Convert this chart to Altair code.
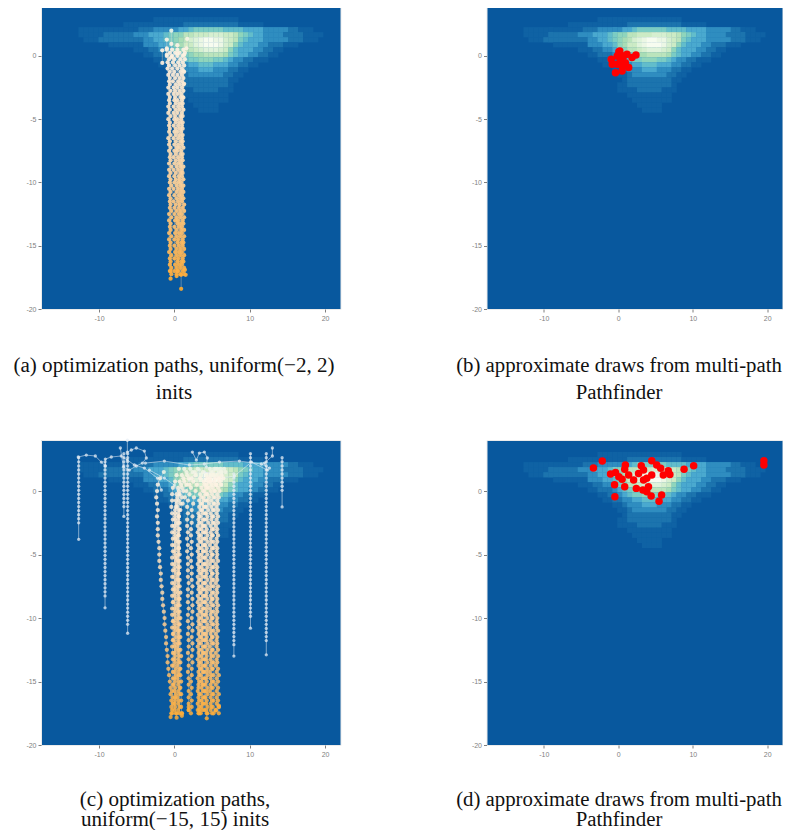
import altair as alt
import pandas as pd

# ---- heat map: row -> (first column, hex levels)
heat_rows = {
    2: (24, "11111111111111111"),
    3: (18, "1111111111112222222222211111"),
    4: (9, "111111111111222333334456666665555444433333" + "22111"),
    5: (9, "11111222222333444567799aaabbbaa9" + "765443333222211" + "11"),
    6: (10, "1112222222223344567" + "89bcdeeddba96544433333" + "222111"),
    7: (15, "1111111333445" + "78aacdeeedba7544433222111"),
    8: (20, "1112233467" + "99abcccba75444332211"),
    9: (22, "112223456" + "78899998" + "6544332211"),
    10: (24, "1122345667776654332" + "2111"),
    11: (25, "112233445554443322" + "11"),
    12: (27, "11233344433322" + "11"),
    13: (28, "11233333332211"),
    14: (29, "122222222211"),
    15: (28, "112222222221"),
    16: (28, "111122222111"),
    17: (30, "111111111"),
    18: (31, "11111111"),
    19: (32, "11111"),
    20: (33, "1111"),
}
heat_levels = [0, 1, 2, 3, 4, 5, 6, 8, 10, 12, 14]
heat_colors = ["#08589e", "#0f62a4", "#1c74ae", "#2f8dc0", "#4aa9cf", "#62bdcb", "#7bccc4", "#a8ddb5", "#ccebc5", "#e0f3db", "#f7fcf0"]
X_MIN, X_MAX = -17.7, 22.05
Y_TOP_1, Y_TOP_2, Y_MIN = 3.87, 4.02, -20

# ---- red draws
draws_b_x = [-0.95, 0.07, 0.73, 2.37, 1.84, -0.38, -0.15, 0.95, 1.39, 0.51, -0.82, 0.29, 1.17, -0.15, 0.51, 0.2]
draws_b_y = [-0.26, 0.34, 0.0, 0.08, -0.13, -1.32, -0.66, -0.53, -0.92, -1.18, -0.66, -0.26, 0.13, 0.0, -0.8, 0.4]
draws_d_x = [-3.34, -2.15, -1.04, -0.5, -0.46, -0.37, 0.07, 0.51, 0.86, 0.95, 0.86, 1.39, 2.06, 2.42, 2.72, 3.08, 3.39, 3.39,
             3.3, 3.83, 4.05, 4.49, 3.83, 4.41, 5.82, 5.47, 4.49, 5.16, 5.69, 6.04, 6.71, 6.93, 8.83, 10.12, 19.55, 19.55]
draws_d_y = [1.81, 2.36, 1.34, 0.5, -0.45, 1.47, 1.13, 0.92, 0.34, 2.05, 1.71, 1.26, 0.87, 0.21, 1.39, 1.99, 1.65, 0.87,
             0.08, 1.0, 0.34, 1.26, -0.05, -0.39, -0.31, -0.81, 2.39, 2.05, 1.79, 1.26, 1.6, 1.31, 1.71, 1.99, 2.39, 2.05]

# ---- panel (a) paths
lv_a1 = [-17.0, -16.5, -16.0, -15.5, -15.0, -14.5, -14.0, -13.5, -13.0, -12.5, -12.0, -11.5, -11.0, -10.5, -10.0, -9.5,
         -9.0, -8.5, -8.0, -7.5, -7.0, -6.5, -6.0, -5.5, -5.0, -4.5, -4.0, -3.5, -3.0, -2.5, -2.0, -1.5, -1.0, -0.5, 0.0, 0.5]
lv_a2 = [-17.25, -16.75, -16.25, -15.75, -15.25, -14.75, -14.25, -13.75, -13.25, -12.75, -12.25, -11.75, -11.25, -10.75,
         -10.25, -9.75, -9.25, -8.75, -8.25, -7.75, -7.25, -6.75, -6.25, -5.75, -5.25, -4.75, -4.25, -3.75, -3.25, -2.75,
         -2.25, -1.75, -1.25, -0.75, -0.25, 0.25]
strands_a = [
    (lv_a1, [-0.6, -0.6, -0.6, -0.7, -0.6, -0.7, -0.7, -0.6, -0.7, -0.7, -0.6, -0.6, -0.7, -0.7, -0.6, -0.7, -0.7, -0.7, -0.6, -0.7, -0.7, -0.8, -0.7, -0.7, -0.8, -0.8, -0.8, -0.7, -0.8, -0.8, -0.7, -0.8, -0.9, -0.9, -1.0, -1.0]),
    (lv_a2, [-0.4, -0.4, -0.5, -0.4, -0.5, -0.5, -0.4, -0.5, -0.5, -0.4, -0.4, -0.5, -0.5, -0.5, -0.4, -0.5, -0.5, -0.4, -0.5, -0.5, -0.5, -0.6, -0.5, -0.6, -0.6, -0.5, -0.6, -0.6, -0.6, -0.5, -0.6, -0.6, -0.6, -0.7, -0.7, -0.6]),
    (lv_a1, [0.0, 0.1, 0.0, 0.1, 0.0, 0.0, 0.1, 0.0, 0.1, 0.0, 0.0, -0.1, 0.0, -0.1, 0.0, 0.0, -0.1, 0.0, -0.1, 0.0, 0.0, -0.1, 0.0, -0.1, 0.0, -0.1, -0.1, 0.0, -0.1, -0.1, -0.2, -0.2, -0.3, -0.2, -0.3, -0.3]),
    (lv_a2, [0.3, 0.3, 0.4, 0.3, 0.3, 0.4, 0.3, 0.3, 0.4, 0.3, 0.3, 0.2, 0.3, 0.3, 0.3, 0.2, 0.2, 0.3, 0.2, 0.2, 0.3, 0.2, 0.2, 0.2, 0.2, 0.1, 0.2, 0.2, 0.1, 0.1, 0.2, 0.1, 0.0, 0.1, 0.0, 0.1]),
    (lv_a1, [0.5, 0.6, 0.5, 0.6, 0.6, 0.5, 0.6, 0.6, 0.5, 0.6, 0.6, 0.5, 0.6, 0.5, 0.5, 0.6, 0.5, 0.5, 0.5, 0.4, 0.5, 0.5, 0.4, 0.5, 0.4, 0.4, 0.5, 0.4, 0.4, 0.4, 0.5, 0.4, 0.4, 0.5, 0.4, 0.4]),
    (lv_a2, [0.8, 0.8, 0.9, 0.8, 0.8, 0.9, 0.8, 0.9, 0.8, 0.8, 0.8, 0.7, 0.8, 0.8, 0.8, 0.7, 0.8, 0.8, 0.7, 0.8, 0.7, 0.8, 0.7, 0.7, 0.7, 0.8, 0.7, 0.7, 0.8, 0.7, 0.7, 0.7, 0.8, 0.7, 0.8, 0.7]),
    (lv_a1, [1.1, 1.0, 1.1, 1.0, 1.1, 1.1, 1.0, 1.0, 1.1, 1.0, 1.1, 1.0, 1.0, 1.0, 0.9, 1.0, 1.0, 0.9, 1.0, 0.9, 1.0, 1.0, 0.9, 1.0, 0.9, 1.0, 1.0, 1.0, 0.9, 1.0, 1.0, 1.0, 1.0, 1.1, 1.1, 1.2]),
    (lv_a2, [1.3, 1.3, 1.2, 1.3, 1.3, 1.2, 1.3, 1.3, 1.2, 1.3, 1.3, 1.3, 1.2, 1.2, 1.2, 1.2, 1.1, 1.2, 1.1, 1.1, 1.2, 1.1, 1.1, 1.1, 1.1, 1.1, 1.2, 1.1, 1.1, 1.2, 1.2, 1.2, 1.3, 1.3, 1.4, 1.4]),
]
tails_a = [
    ([-0.4, -0.4, -0.4], [-0.1, 0.95, 2.0]), ([-1.0, -1.0, -1.0], [0.1, 0.6, 1.3]), ([1.3, 1.6, 1.7], [0.1, 0.6, 1.35]),
    ([-1.6, -1.6], [0.45, -0.55]), ([0.4, 0.4], [0.2, 0.85]), ([1.2, 1.3, 1.2], [-3.3, -2.2, -1.2]),
    ([0.9, 0.9], [-17.3, -18.4]), ([-0.5, -0.5], [-17.0, -17.6]), ([0.4, 0.3], [-17.0, -17.4]), ([1.4, 1.5], [-16.9, -17.3]),
]

# ---- panel (c) paths: warm strands reach the mode from the bottom
lv_c1 = [-17.5, -17.0, -16.5, -16.0, -15.5, -15.0, -14.5, -14.0, -13.5, -13.0, -12.5, -12.0, -11.5, -11.0, -10.5, -10.0, -9.5,
         -9.0, -8.5, -8.0, -7.5, -7.0, -6.5, -6.0, -5.5, -5.0, -4.5, -4.0, -3.5, -3.0, -2.5, -2.0, -1.5, -1.0, -0.5, 0.0, 0.5, 1.0, 1.5]
lv_c2 = [-17.25, -16.75, -16.25, -15.75, -15.25, -14.75, -14.25, -13.75, -13.25, -12.75, -12.25, -11.75, -11.25, -10.75, -10.25,
         -9.75, -9.25, -8.75, -8.25, -7.75, -7.25, -6.75, -6.25, -5.75, -5.25, -4.75, -4.25, -3.75, -3.25, -2.75, -2.25, -1.75,
         -1.25, -0.75, -0.25, 0.25, 0.75, 1.25, 1.75]
strands_c = [
    (lv_c1, [-0.3, -0.4, -0.4, -0.5, -0.5, -0.6, -0.7, -0.8, -0.9, -0.9, -1.0, -1.1, -1.1, -1.2, -1.3, -1.3, -1.4, -1.5, -1.6, -1.6, -1.7, -1.8, -1.8, -1.9, -2.0, -2.0, -2.0, -2.1, -2.2, -2.2, -2.2, -2.3, -2.2, -2.3, -2.4, -2.3, -2.2, -1.9, -1.4]),
    (lv_c2, [-0.3, -0.2, -0.2, -0.3, -0.2, -0.2, -0.2, -0.3, -0.2, -0.2, -0.3, -0.2, -0.2, -0.3, -0.2, -0.3, -0.3, -0.2, -0.3, -0.2, -0.3, -0.3, -0.2, -0.3, -0.3, -0.2, -0.3, -0.2, -0.3, -0.3, -0.2, -0.3, -0.4, -0.3, -0.3, -0.2, 0.1, 0.3, 0.6]),
    (lv_c1, [0.2, 0.1, 0.1, 0.2, 0.1, 0.1, 0.2, 0.2, 0.1, 0.1, 0.2, 0.1, 0.2, 0.1, 0.1, 0.2, 0.1, 0.2, 0.2, 0.1, 0.1, 0.2, 0.2, 0.1, 0.2, 0.1, 0.2, 0.2, 0.1, 0.1, 0.2, 0.1, 0.1, 0.3, 0.4, 0.6, 0.9, 1.2, 1.6]),
    (lv_c2, [0.5, 0.5, 0.4, 0.5, 0.5, 0.4, 0.5, 0.4, 0.5, 0.5, 0.4, 0.5, 0.5, 0.4, 0.4, 0.5, 0.4, 0.5, 0.5, 0.4, 0.5, 0.4, 0.5, 0.5, 0.4, 0.5, 0.5, 0.4, 0.5, 0.4, 0.5, 0.5, 0.4, 0.6, 0.7, 1.0, 1.3, 1.7, 2.1]),
    (lv_c1, [1.0, 0.9, 0.9, 0.9, 0.8, 0.9, 0.8, 0.8, 0.8, 0.9, 0.8, 0.7, 0.8, 0.7, 0.7, 0.8, 0.7, 0.7, 0.7, 0.8, 0.7, 0.7, 0.6, 0.7, 0.7, 0.7, 0.6, 0.7, 0.6, 0.7, 0.7, 0.6, 0.8, 1.1, 1.4, 1.6, 2.0, 2.3, 2.7]),
    (lv_c2, [1.9, 1.9, 1.9, 1.9, 1.9, 1.9, 1.8, 1.9, 1.9, 1.8, 1.9, 1.9, 1.8, 1.9, 1.8, 1.8, 1.9, 1.8, 1.8, 1.8, 1.9, 1.8, 1.8, 1.8, 1.8, 1.7, 1.8, 1.7, 1.8, 1.7, 1.7, 1.8, 1.7, 1.8, 2.0, 2.2, 2.5, 2.8, 3.1]),
    (lv_c1, [2.2, 2.3, 2.3, 2.2, 2.3, 2.2, 2.3, 2.3, 2.4, 2.3, 2.4, 2.4, 2.3, 2.4, 2.4, 2.3, 2.4, 2.4, 2.4, 2.3, 2.4, 2.3, 2.3, 2.3, 2.2, 2.3, 2.2, 2.3, 2.2, 2.2, 2.3, 2.4, 2.3, 2.5, 2.6, 2.8, 3.0, 3.4, 3.8]),
    (lv_c2, [3.1, 3.1, 3.2, 3.1, 3.2, 3.1, 3.2, 3.2, 3.1, 3.2, 3.1, 3.1, 3.2, 3.1, 3.2, 3.1, 3.2, 3.1, 3.1, 3.2, 3.1, 3.1, 3.2, 3.1, 3.2, 3.1, 3.1, 3.2, 3.1, 3.1, 3.2, 3.2, 3.3, 3.3, 3.4, 3.6, 3.9, 4.3, 4.7]),
    (lv_c1, [3.5, 3.6, 3.6, 3.5, 3.6, 3.6, 3.5, 3.6, 3.5, 3.6, 3.6, 3.5, 3.6, 3.6, 3.5, 3.6, 3.6, 3.5, 3.6, 3.5, 3.6, 3.5, 3.6, 3.6, 3.5, 3.6, 3.6, 3.6, 3.5, 3.6, 3.6, 3.5, 3.7, 3.7, 3.9, 4.0, 4.3, 4.7, 5.1]),
    (lv_c2, [4.0, 3.9, 4.0, 4.0, 3.9, 4.0, 3.9, 4.0, 4.0, 3.9, 4.0, 4.0, 4.0, 3.9, 4.0, 4.0, 3.9, 4.0, 4.0, 3.9, 4.0, 4.0, 3.9, 4.0, 4.0, 3.9, 4.0, 4.0, 4.0, 3.9, 4.0, 4.1, 4.1, 4.2, 4.3, 4.4, 4.7, 5.1, 5.5]),
    (lv_c1, [4.4, 4.4, 4.3, 4.4, 4.4, 4.3, 4.4, 4.4, 4.4, 4.3, 4.4, 4.4, 4.3, 4.4, 4.4, 4.4, 4.3, 4.4, 4.4, 4.3, 4.4, 4.4, 4.3, 4.4, 4.4, 4.4, 4.3, 4.4, 4.4, 4.3, 4.5, 4.4, 4.5, 4.6, 4.6, 4.8, 5.0, 5.4, 5.9]),
    (lv_c2, [4.8, 4.8, 4.8, 4.7, 4.8, 4.8, 4.7, 4.8, 4.8, 4.8, 4.7, 4.8, 4.8, 4.7, 4.8, 4.8, 4.7, 4.8, 4.8, 4.7, 4.8, 4.8, 4.8, 4.7, 4.8, 4.8, 4.7, 4.8, 4.8, 4.8, 4.9, 4.8, 4.9, 4.9, 5.0, 5.1, 5.3, 5.7, 6.1]),
    (lv_c1, [5.2, 5.1, 5.2, 5.2, 5.1, 5.2, 5.2, 5.1, 5.2, 5.2, 5.1, 5.2, 5.1, 5.2, 5.2, 5.1, 5.2, 5.2, 5.1, 5.2, 5.2, 5.2, 5.1, 5.2, 5.2, 5.1, 5.2, 5.2, 5.1, 5.2, 5.3, 5.2, 5.3, 5.3, 5.4, 5.4, 5.6, 6.0, 6.3]),
    (lv_c2, [5.5, 5.6, 5.6, 5.6, 5.5, 5.6, 5.6, 5.5, 5.6, 5.5, 5.6, 5.6, 5.5, 5.6, 5.6, 5.5, 5.6, 5.6, 5.5, 5.6, 5.5, 5.6, 5.6, 5.5, 5.6, 5.6, 5.5, 5.6, 5.6, 5.5, 5.6, 5.6, 5.6, 5.7, 5.7, 5.8, 6.0, 6.3, 6.6]),
    (lv_c1, [5.9, 5.9, 5.8, 5.9, 5.8, 5.8, 5.9, 5.8, 5.7, 5.8, 5.8, 5.7, 5.7, 5.8, 5.7, 5.7, 5.7, 5.8, 5.7, 5.7, 5.8, 5.7, 5.7, 5.7, 5.8, 5.7, 5.7, 5.7, 5.8, 5.7, 5.8, 5.8, 5.8, 5.8, 5.9, 6.0, 6.2, 6.5, 6.8]),
    (lv_c2, [0.0, 0.0, 0.1, 0.0, -0.1, 0.0, 0.0, -0.1, 0.0, 0.0, 0.0, -0.1, -0.1, 0.0, -0.1, 0.0, 0.0, -0.1, 0.0, 0.0, 0.0, -0.1, 0.0, 0.0, 0.1, 0.0, 0.0, 0.1, 0.0, 0.0, 0.1, 0.1, 0.2, 0.2, 0.3, 0.5, 0.7, 1.0, 1.3]),
    (lv_c1, [0.7, 0.7, 0.6, 0.7, 0.7, 0.6, 0.6, 0.7, 0.6, 0.6, 0.6, 0.5, 0.6, 0.5, 0.6, 0.6, 0.5, 0.5, 0.6, 0.5, 0.5, 0.5, 0.6, 0.5, 0.5, 0.5, 0.6, 0.5, 0.5, 0.6, 0.5, 0.6, 0.6, 0.8, 1.0, 1.2, 1.6, 1.9, 2.4]),
    (lv_c1, [3.3, 3.3, 3.3, 3.3, 3.2, 3.3, 3.3, 3.4, 3.3, 3.3, 3.3, 3.3, 3.4, 3.3, 3.3, 3.3, 3.4, 3.3, 3.3, 3.4, 3.3, 3.3, 3.4, 3.3, 3.3, 3.3, 3.3, 3.4, 3.3, 3.3, 3.3, 3.3, 3.5, 3.5, 3.6, 3.8, 4.0, 4.4, 4.9]),
    (lv_c2, [3.7, 3.7, 3.8, 3.8, 3.7, 3.7, 3.8, 3.7, 3.7, 3.8, 3.8, 3.7, 3.8, 3.7, 3.8, 3.7, 3.8, 3.7, 3.8, 3.7, 3.8, 3.7, 3.7, 3.8, 3.7, 3.8, 3.8, 3.7, 3.8, 3.7, 3.8, 3.8, 3.9, 3.9, 4.1, 4.2, 4.5, 4.9, 5.3]),
    (lv_c2, [4.2, 4.2, 4.1, 4.2, 4.1, 4.2, 4.2, 4.1, 4.2, 4.2, 4.1, 4.2, 4.2, 4.2, 4.1, 4.2, 4.2, 4.1, 4.2, 4.2, 4.1, 4.2, 4.2, 4.2, 4.1, 4.2, 4.1, 4.2, 4.2, 4.1, 4.3, 4.2, 4.3, 4.4, 4.4, 4.6, 4.8, 5.2, 5.7]),
    (lv_c1, [5.0, 4.9, 5.0, 5.0, 4.9, 5.0, 4.9, 5.0, 5.0, 4.9, 5.0, 5.0, 5.0, 4.9, 5.0, 5.0, 4.9, 5.0, 5.0, 5.0, 4.9, 5.0, 5.0, 5.0, 4.9, 5.0, 5.0, 4.9, 5.0, 5.0, 5.1, 5.0, 5.1, 5.2, 5.2, 5.3, 5.5, 5.9, 6.2]),
]
lv_out = [-16.9, -16.58, -16.26, -15.94, -15.62, -15.3, -14.98, -14.66, -14.34, -14.02, -13.7, -13.38, -13.06, -12.74, -12.42,
          -12.1, -11.78, -11.46, -11.14, -10.82, -10.5, -10.18, -9.86, -9.54, -9.22, -8.9, -8.58, -8.26, -7.94, -7.62, -7.3,
          -6.98, -6.66, -6.34, -6.02, -5.7, -5.38, -5.06, -4.74, -4.42, -4.1, -3.78, -3.46, -3.14, -2.82, -2.5, -2.18, -1.86,
          -1.54, -1.22, -0.9, -0.58, -0.26, 0.06, 0.38, 0.7, 1.02, 1.34, 1.66, 1.98, 2.3, 2.62, 2.94]
# x, lowest y of the regular markers, last y (isolated end marker), top y
outer_c = [(-12.7, -2.8, -3.8, 2.7), (-9.2, -8.3, -9.2, 2.4), (-6.7, -1.5, -2.0, 3.3), (-6.2, -10.5, -11.2, 3.0),
           (7.9, -12.2, -13.0, 1.4), (10.1, -10.0, -10.8, 3.0), (12.2, -12.0, -12.9, 3.0), (14.3, 0.0, -1.25, 2.8)]
curves_c = [
    ([-12.75, -11.69, -10.49, -9.69, -9.16, -9.16, -8.37, -7.04, -6.24, -5.31, -3.98, -2.26, -1.73],
     [2.68, 2.83, 2.76, 2.28, 1.97, 2.52, 2.68, 2.76, 2.44, 2.05, 1.81, 1.02, 0.08]),
    ([-6.24, -6.24, -5.71, -5.05, -3.98, -3.72, -4.25, -5.05, -5.98, -6.77, -7.17],
     [4.0, 3.07, 3.23, 3.39, 3.15, 2.6, 2.2, 1.97, 1.65, 1.89, 3.39]),
    ([-3.85, -1.33, 1.99, 3.98, 5.98, 8.63, 11.55, 12.62], [2.2, 2.36, 2.05, 2.13, 2.28, 2.36, 2.13, 1.81]),
    ([13.01, 13.01, 11.95, 12.35, 10.23, 7.97, 6.24, 3.98], [3.39, 2.76, 2.2, 1.65, 2.28, 1.18, 1.02, 1.5]),
    ([-3.32, -1.33, 0.0, 0.66, 1.99, 3.32], [1.65, 1.02, 0.47, -0.31, 0.87, 1.65]),
    ([2.39, 2.92, 3.32, 3.98, 4.38, 4.25], [3.07, 2.44, 2.99, 3.07, 2.6, 1.89]),
]
ends_c = [([-0.4, -0.5], [-17.5, -17.8]), ([0.3, 0.3], [-17.5, -17.85]), ([1.0, 1.0], [-17.5, -17.7]),
          ([1.9, 1.9], [-17.25, -17.0]), ([3.3, 3.2], [-17.25, -17.5]), ([4.3, 4.3], [-17.5, -17.9]),
          ([5.5, 5.5], [-17.25, -17.3]), ([5.9, 5.9], [-17.0, -16.9])]

captions = [
    ["(a) optimization paths, uniform(\u22122, 2)", "inits"],
    ["(b) approximate draws from multi-path", "Pathfinder"],
    ["(c) optimization paths,", "uniform(\u221215, 15) inits"],
    ["(d) approximate draws from multi-path", "Pathfinder"],
]

# ---- tables
heat = []
cw, rh = (X_MAX - X_MIN) / 60, 0.397
for r, (c0, s) in heat_rows.items():
    for k, ch in enumerate(s):
        c = c0 + k - 1.5
        heat.append(dict(x0=X_MIN + c * cw, x1=X_MIN + (c + 1) * cw + 0.04, y1=Y_TOP_1 - r * rh, y0=Y_TOP_1 - (r + 1) * rh - 0.02, v=int(ch, 16)))
heat = pd.DataFrame(heat)


def table(paths):
    rows = []
    for i, (xs, ys) in enumerate(paths):
        for j, (x, y) in enumerate(zip(xs, ys)):
            rows.append(dict(s=i, o=j, x=x, y=y))
    return pd.DataFrame(rows)


warm_a = table([(xs, lv) for lv, xs in strands_a] + tails_a)
warm_c = table([(xs, lv) for lv, xs in strands_c] + ends_c)
cool_paths = list(curves_c)
for x, low, end, top in outer_c:
    ys = [end] + [v for v in lv_out if low <= v <= top]
    cool_paths.append(([x] * len(ys), ys))
cool_c = table(cool_paths)

XS = alt.Scale(domain=[X_MIN, X_MAX], nice=False, zero=False)
TICK = dict(domain=False, grid=False, tickSize=3, tickColor="#7f7f7f", labelColor="#7f7f7f", labelFont="Liberation Sans",
            labelFontSize=7, labelPadding=2, labelExpr="'' + datum.value")
WARM = alt.Scale(domain=[-18.4, -14, -8, -2, 1, 3.5],
                 range=["#fca92e", "#fdbd69", "#fdd9ad", "#fdebd5", "#fdf3e6", "#e6eef5"])


def panel(caption, top, width, height, center, cap_y, line_h, font, layers):
    ys = alt.Scale(domain=[Y_MIN, top], nice=False, zero=False)
    xax = alt.Axis(values=[-10, 0, 10, 20], title=caption, titleFont="Liberation Serif", titleFontSize=font,
                   titleFontWeight="normal", titleColor="#111111", titleX=center, titleY=cap_y, titleAlign="center",
                   titleBaseline="alphabetic", titleLineHeight=line_h, **TICK)
    yax = alt.Axis(values=[-20, -15, -10, -5, 0], title="", **TICK)
    x = alt.X("x0:Q", scale=XS, axis=xax)
    y = alt.Y("y0:Q", scale=ys, axis=yax)
    base = alt.Chart(heat).mark_rect(strokeWidth=0).encode(
        x=x, x2="x1:Q", y=y, y2="y1:Q",
        color=alt.Color("v:Q", scale=alt.Scale(domain=heat_levels, range=heat_colors), legend=None))
    out = [base]
    for layer in layers:
        out.extend(layer(ys))
    return alt.layer(*out).resolve_scale(color="independent").properties(width=width, height=height)


def paths_warm(df, alpha):
    def f(ys):
        xe = alt.X("x:Q", scale=XS)
        ye = alt.Y("y:Q", scale=ys)
        c = alt.Color("y:Q", scale=WARM, legend=None)
        return [
            alt.Chart(df).mark_line(strokeWidth=0.7, opacity=0.5, color="#fbe6cc").encode(x=xe, y=ye, detail="s:N", order="o:Q"),
            alt.Chart(df).mark_circle(size=18, opacity=alpha).encode(x=xe, y=ye, color=c),
        ]
    return f


def paths_cool(df):
    def f(ys):
        xe = alt.X("x:Q", scale=XS)
        ye = alt.Y("y:Q", scale=ys)
        return [
            alt.Chart(df).mark_line(strokeWidth=0.9, opacity=0.6, color="#e8eff5").encode(x=xe, y=ye, detail="s:N", order="o:Q"),
            alt.Chart(df).mark_circle(size=11, opacity=0.72, color="#e8eff5").encode(x=xe, y=ye),
        ]
    return f


def draws(xs, ys_):
    df = pd.DataFrame({"x": xs, "y": ys_})

    def f(ys):
        return [alt.Chart(df).mark_circle(size=56, opacity=1, color="#ff0000").encode(
            x=alt.X("x:Q", scale=XS), y=alt.Y("y:Q", scale=ys))]
    return f


a = panel(captions[0], Y_TOP_1, 299.5, 302, 132.5, 62, 27, 21.1, [paths_warm(warm_a, 0.92)])
b = panel(captions[1], Y_TOP_1, 296, 302, 132, 62, 27, 20.8, [draws(draws_b_x, draws_b_y)])
c = panel(captions[2], Y_TOP_2, 299.5, 305, 133.5, 60, 20.5, 21.1, [paths_cool(cool_c), paths_warm(warm_c, 0.85)])
d = panel(captions[3], Y_TOP_2, 296, 305, 132, 60, 20.5, 20.8, [draws(draws_d_x, draws_d_y)])

chart = alt.concat(a, b, c, d, columns=2, spacing=alt.RowColnumber(row=131, column=145.5), bounds="flush").properties(
    padding={"left": 4, "top": -2, "right": 0, "bottom": -1}, background="#ffffff"
).configure_view(fill="#08589e", stroke="#ebebeb", strokeWidth=1)

chart.save("out.html", embed_options={"renderer": "svg", "actions": False})
